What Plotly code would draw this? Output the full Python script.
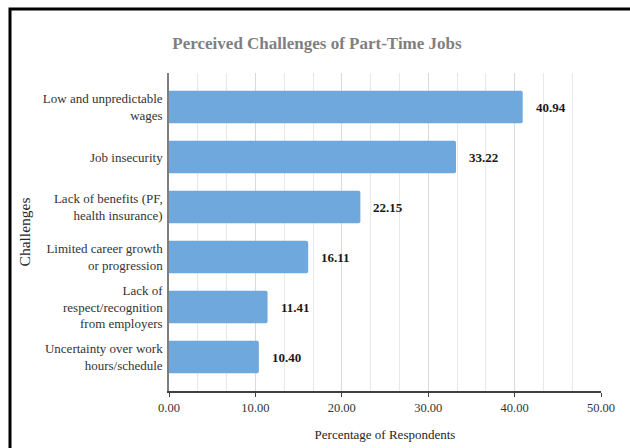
import plotly.graph_objects as go

# Survey results: share of respondents naming each challenge
challenges = [
    "Low and unpredictable<br>wages",
    "Job insecurity",
    "Lack of benefits (PF,<br>health insurance)",
    "Limited career growth<br>or progression",
    "Lack of<br>respect/recognition<br>from employers",
    "Uncertainty over work<br>hours/schedule",
]
percentages = [40.94, 33.22, 22.15, 16.11, 11.41, 10.40]
x_ticks = [0, 10, 20, 30, 40, 50]

SERIF = "Liberation Serif"
BAR_COLOR = "#6fa8dc"

fig = go.Figure(
    go.Bar(
        x=percentages,
        y=challenges,
        orientation="h",
        width=0.65,
        marker=dict(color=BAR_COLOR, line=dict(width=0)),
        hoverinfo="x+y",
    )
)

# Value labels just right of each bar
for cat, val in zip(challenges, percentages):
    fig.add_annotation(
        x=val, y=cat, xref="x", yref="y",
        text=f"<b>{val:.2f}</b>",
        showarrow=False, xanchor="left", xshift=11,
        font=dict(family=SERIF, size=13, color="#1a1a1a"),
    )

# Thick outer frame around the chart
fig.add_shape(
    type="rect", xref="paper", yref="paper",
    x0=(10 - 169) / 432, x1=(720 - 169) / 432,
    y0=-(120 / 318), y1=1 + (64 / 318),
    line=dict(color="black", width=3), fillcolor="rgba(0,0,0,0)",
    layer="above",
)

fig.update_layout(
    width=630, height=448,
    margin=dict(l=169, r=29, t=73, b=57),
    paper_bgcolor="white", plot_bgcolor="white",
    showlegend=False,
    barcornerradius=2,
    title=dict(
        text="<b>Perceived Challenges of Part-Time Jobs</b>",
        x=317 / 630, xanchor="center", y=1 - 43 / 448, yanchor="middle",
        font=dict(family=SERIF, size=17, color="#7f7f7f"),
    ),
    font=dict(family=SERIF, color="#262626"),
)

fig.update_xaxes(
    range=[0, 50],
    automargin=False,
    tickvals=x_ticks,
    ticktext=[f"{v:.2f}" for v in x_ticks],
    tickfont=dict(family=SERIF, size=12.5, color="#333333"),
    showgrid=True, gridcolor="#d9d9d9", gridwidth=1,
    minor=dict(dtick=10 / 3, showgrid=True, gridcolor="#e8e8e8", gridwidth=1),
    showline=True, linecolor="#404040", linewidth=1.5,
    ticks="outside", ticklen=4, tickcolor="#404040",
    zeroline=False,
    title=dict(text="Percentage of Respondents", standoff=16,
               font=dict(family=SERIF, size=13, color="#262626")),
)

fig.update_yaxes(
    autorange=False,
    automargin=False,
    range=[5.68, -0.68],
    categoryorder="array", categoryarray=challenges,
    tickfont=dict(family=SERIF, size=13, color="#333333"),
    showline=True, linecolor="#7f7f7f", linewidth=1.5,
    ticks="", ticklabelstandoff=2,
    showgrid=False,
    title=dict(text="Challenges", standoff=8,
               font=dict(family=SERIF, size=15.5, color="#262626")),
)

fig.write_html("out.html")
